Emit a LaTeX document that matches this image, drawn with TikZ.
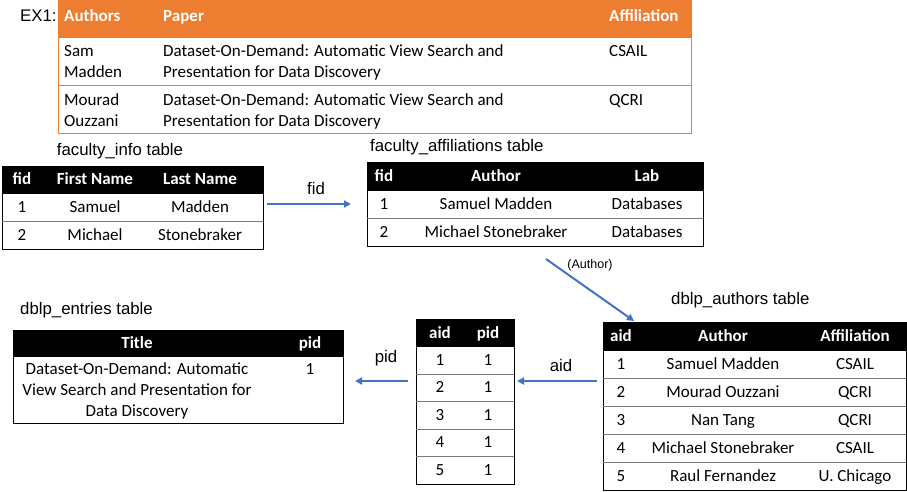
\documentclass[tikz,border=0pt]{standalone}
\usepackage{fontspec}
\setmainfont{Liberation Sans}
\newfontfamily\calfont{Carlito}
\usetikzlibrary{arrows.meta}
\definecolor{orng}{HTML}{ED7D31}
\definecolor{arrowblue}{HTML}{4472C4}
\definecolor{gridgray}{HTML}{7A7A7A}
\tikzset{
  lbl/.style={font=\fontsize{16.8}{18}\selectfont, inner sep=0},
  small/.style={font=\fontsize{12.5}{14}\selectfont, inner sep=0},
  cell/.style={font=\calfont\fontsize{17}{19}\selectfont, inner sep=0, text height=11.5pt, text depth=3.5pt},
  hcell/.style={font=\calfont\bfseries\fontsize{17}{19}\selectfont, inner sep=0, text height=11.5pt, text depth=3.5pt, text=white},
  lcell/.style={font=\calfont\fontsize{17}{19}\selectfont, inner sep=0, anchor=base west},
  lhcell/.style={font=\calfont\bfseries\fontsize{17}{19}\selectfont, inner sep=0, anchor=base west, text=white},
  frame/.style={draw=black, line width=0.8pt, inner sep=0, anchor=north west},
  hdrbox/.style={fill=black, draw=black, line width=0.8pt, inner sep=0, anchor=north west},
  sep/.style={draw=gridgray, line width=0.7pt},
  conn/.style={draw=arrowblue, line width=2pt, -{Triangle[length=7pt,width=7pt]}}
}
\begin{document}
\begin{tikzpicture}[x=1pt,y=-1pt]
\useasboundingbox (0,0) rectangle (907,491);

% ---------- EX1 table ----------
\node[lbl, anchor=west] (ex) at (20,16) {EX1:};
\node[draw=orng, line width=0.8pt, inner sep=0, anchor=north west, minimum width=633pt, minimum height=133pt] (exT) at (58,0) {};
\node[fill=orng, draw=orng, line width=0.8pt, inner sep=0, anchor=north west, minimum width=633pt, minimum height=37pt] (exH) at (58,0) {};
\draw[draw=orng, line width=0.8pt] (58,85) -- (691,85);
\node[lhcell] (exh1) at (64,21) {Authors};
\node[lhcell] (exh2) at (163,21) {Paper};
\node[lhcell] (exh3) at (609,21) {Affiliation};
\node[lcell] (ex11a) at (64,56) {Sam};
\node[lcell] (ex11b) at (64,77) {Madden};
\node[lcell] (ex12a) at (163,56) {Dataset-On-Demand: Automatic View Search and};
\node[lcell] (ex12b) at (163,77) {Presentation for Data Discovery};
\node[lcell] (ex13) at (609,56) {CSAIL};
\node[lcell] (ex21a) at (64,105) {Mourad};
\node[lcell] (ex21b) at (64,126) {Ouzzani};
\node[lcell] (ex22a) at (163,105) {Dataset-On-Demand: Automatic View Search and};
\node[lcell] (ex22b) at (163,126) {Presentation for Data Discovery};
\node[lcell] (ex23) at (609,105) {QCRI};

% ---------- faculty_info ----------
\node[lbl] (fiT) at (120,151) {faculty\_info table};
\node[frame, minimum width=261pt, minimum height=83pt] (fi) at (2,166) {};
\node[hdrbox, minimum width=261pt, minimum height=27pt] (fiH) at (2,166) {};
\draw[sep] (2,221) -- (263,221);
\node[hcell] (fih1) at (22,180) {fid};
\node[hcell] (fih2) at (95,180) {First Name};
\node[hcell] (fih3) at (200,180) {Last Name};
\node[cell] (fi11) at (22,208) {1};
\node[cell] (fi12) at (95,208) {Samuel};
\node[cell] (fi13) at (200,208) {Madden};
\node[cell] (fi21) at (22,236) {2};
\node[cell] (fi22) at (95,236) {Michael};
\node[cell] (fi23) at (200,236) {Stonebraker};

% ---------- faculty_affiliations ----------
\node[lbl, anchor=west] (faT) at (370,147) {faculty\_affiliations table};
\node[frame, minimum width=336pt, minimum height=84pt] (fa) at (367,162) {};
\node[hdrbox, minimum width=336pt, minimum height=28pt] (faH) at (367,162) {};
\draw[sep] (367,218) -- (703,218);
\node[hcell] (fah1) at (384,177) {fid};
\node[hcell] (fah2) at (496,177) {Author};
\node[hcell] (fah3) at (647,177) {Lab};
\node[cell] (fa11) at (384,205) {1};
\node[cell] (fa12) at (496,205) {Samuel Madden};
\node[cell] (fa13) at (647,205) {Databases};
\node[cell] (fa21) at (384,233) {2};
\node[cell] (fa22) at (496,233) {Michael Stonebraker};
\node[cell] (fa23) at (647,233) {Databases};

% fid arrow
\coordinate (fidS) at (267,204);
\coordinate (fidE) at (351,204);
\draw[conn] (fidS) -- (fidE);
\node[lbl] (fidL) at (316,188) {fid};

% (Author) arrow
\coordinate (auS) at (546,259);
\coordinate (auE) at (634,321);
\draw[conn] (auS) -- (auE);
\node[small] (auL) at (590,265) {(Author)};

% ---------- dblp_authors ----------
\node[lbl, anchor=west] (daT) at (671,300) {dblp\_authors table};
\node[frame, minimum width=303pt, minimum height=168pt] (da) at (603,322) {};
\node[hdrbox, minimum width=303pt, minimum height=28pt] (daH) at (603,322) {};
\foreach \yy in {378,406,434,462} {\draw[sep] (603,\yy) -- (906,\yy);}
\node[hcell] (dah1) at (621,337) {aid};
\node[hcell] (dah2) at (723,337) {Author};
\node[hcell] (dah3) at (855,337) {Affiliation};
\foreach \r/\nm/\af [count=\i] in {1/Samuel Madden/CSAIL, 2/Mourad Ouzzani/QCRI, 3/Nan Tang/QCRI, 4/Michael Stonebraker/CSAIL, 5/Raul Fernandez/U. Chicago} {
  \node[cell] (da\i a) at (621,337+28*\i) {\r};
  \node[cell] (da\i b) at (723,337+28*\i) {\nm};
  \node[cell] (da\i c) at (855,337+28*\i) {\af};
}

% aid arrow
\coordinate (aidS) at (597,381);
\coordinate (aidE) at (517,381);
\draw[conn] (aidS) -- (aidE);
\node[lbl] (aidL) at (561,365) {aid};

% ---------- aid/pid ----------
\node[frame, minimum width=98pt, minimum height=165pt] (ap) at (416,319) {};
\node[hdrbox, minimum width=98pt, minimum height=27pt] (apH) at (416,319) {};
\foreach \yy in {374,401,429,456} {\draw[sep] (416,\yy) -- (514,\yy);}
\node[hcell] (aph1) at (440,334) {aid};
\node[hcell] (aph2) at (488,334) {pid};
\foreach \i in {1,...,5} {
  \node[cell] (ap\i a) at (440,333.5+27.6*\i) {\i};
  \node[cell] (ap\i b) at (488,333.5+27.6*\i) {1};
}

% pid arrow
\coordinate (pidS) at (408,381);
\coordinate (pidE) at (355,381);
\draw[conn] (pidS) -- (pidE);
\node[lbl] (pidL) at (386,358) {pid};

% ---------- dblp_entries ----------
\node[lbl, anchor=west] (deT) at (20,310) {dblp\_entries table};
\node[frame, minimum width=330pt, minimum height=93pt] (de) at (13,330) {};
\node[hdrbox, minimum width=330pt, minimum height=26pt] (deH) at (13,330) {};
\node[hcell] (deh1) at (137,344) {Title};
\node[hcell] (deh2) at (310,344) {pid};
\node[cell] (de1) at (137,370) {Dataset-On-Demand: Automatic};
\node[cell] (de2) at (137,391) {View Search and Presentation for};
\node[cell] (de3) at (137,412) {Data Discovery};
\node[cell] (de4) at (310,370) {1};
\end{tikzpicture}
\end{document}
